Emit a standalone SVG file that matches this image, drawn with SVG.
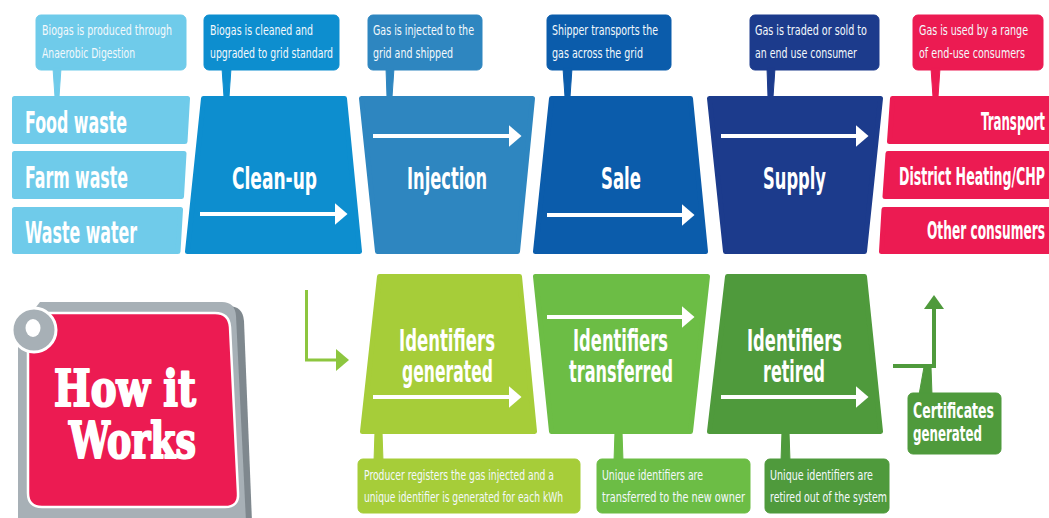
<svg xmlns="http://www.w3.org/2000/svg" width="1049" height="518" viewBox="0 0 1049 518">
<style>
.lbl{font-family:'Liberation Sans Narrow','DejaVu Sans Condensed','Liberation Sans',Arial,sans-serif;font-weight:bold;fill:#fff;}
.big{font-size:30px;}
.red{font-size:24.5px;}
.cer{font-size:21px;}
.co{font-family:'Liberation Sans Narrow','DejaVu Sans Condensed','Liberation Sans',Arial,sans-serif;font-size:14px;fill:#f4f9fc;}
.shp{stroke-linejoin:round;stroke-width:5;}
.arr{stroke:#fff;stroke-width:4;fill:none;}
.hw{font-family:'DejaVu Serif','Liberation Serif',serif;font-weight:bold;font-size:50px;fill:#fff;stroke:#fff;stroke-width:2.2;stroke-linejoin:round;}
.c1{fill:#6fcbea;stroke:#6fcbea;}
.c2{fill:#0d8ecf;stroke:#0d8ecf;}
.c3{fill:#2e86c0;stroke:#2e86c0;}
.c4{fill:#0b5cab;stroke:#0b5cab;}
.c5{fill:#1c3b8c;stroke:#1c3b8c;}
.c6{fill:#ec1b52;stroke:#ec1b52;}
.g1{fill:#a6cd39;stroke:#a6cd39;}
.g2{fill:#6cbd45;stroke:#6cbd45;}
.g3{fill:#4f9a3c;stroke:#4f9a3c;}
</style>
<defs>
<marker id="ah" viewBox="0 0 10 10" refX="1" refY="5" markerWidth="3.2" markerHeight="5.5" orient="auto" markerUnits="strokeWidth" preserveAspectRatio="none"><path d="M0,0 L10,5 L0,10 Z" fill="#fff"/></marker>
</defs>
<rect width="1049" height="518" fill="#fff"/>

<!-- top callouts -->
<g id="callout-produce">
<rect x="36" y="15" width="150" height="55" rx="5" class="c1"/>
<polygon points="53,68 61,68 59,97 55,97" class="c1"/>
<text class="co" x="42" y="35" textLength="130" lengthAdjust="spacingAndGlyphs">Biogas is produced through</text>
<text class="co" x="42" y="58" textLength="93" lengthAdjust="spacingAndGlyphs">Anaerobic Digestion</text>
</g>
<g id="callout-clean">
<rect x="204" y="15" width="135" height="55" rx="5" class="c2"/>
<polygon points="222,68 231,68 229,97 224,97" class="c2"/>
<text class="co" x="210" y="35" textLength="103" lengthAdjust="spacingAndGlyphs">Biogas is cleaned and</text>
<text class="co" x="210" y="58" textLength="123" lengthAdjust="spacingAndGlyphs">upgraded to grid standard</text>
</g>
<g id="callout-inject">
<rect x="368" y="15" width="114" height="55" rx="5" class="c3"/>
<polygon points="386,68 394,68 392,97 387,97" class="c3"/>
<text class="co" x="373" y="35" textLength="101" lengthAdjust="spacingAndGlyphs">Gas is injected to the</text>
<text class="co" x="373" y="58" textLength="80" lengthAdjust="spacingAndGlyphs">grid and shipped</text>
</g>
<g id="callout-ship">
<rect x="547" y="15" width="124" height="55" rx="5" class="c4"/>
<polygon points="563,68 572,68 570,97 565,97" class="c4"/>
<text class="co" x="552" y="35" textLength="106" lengthAdjust="spacingAndGlyphs">Shipper transports the</text>
<text class="co" x="552" y="58" textLength="91" lengthAdjust="spacingAndGlyphs">gas across the grid</text>
</g>
<g id="callout-trade">
<rect x="750" y="15" width="129" height="55" rx="5" class="c5"/>
<polygon points="767,68 775,68 773,97 768,97" class="c5"/>
<text class="co" x="755" y="35" textLength="112" lengthAdjust="spacingAndGlyphs">Gas is traded or sold to</text>
<text class="co" x="755" y="58" textLength="102" lengthAdjust="spacingAndGlyphs">an end use consumer</text>
</g>
<g id="callout-use">
<rect x="913" y="15" width="130" height="55" rx="5" class="c6"/>
<polygon points="931,68 940,68 938,97 933,97" class="c6"/>
<text class="co" x="919" y="35" textLength="109" lengthAdjust="spacingAndGlyphs">Gas is used by a range</text>
<text class="co" x="919" y="58" textLength="106" lengthAdjust="spacingAndGlyphs">of end-use consumers</text>
</g>

<!-- waste boxes -->
<g id="food-waste">
<polygon points="14.5,98.5 187.5,98.5 185,141.5 14.5,141.5" class="shp c1"/>
<text class="lbl big" x="25" y="133" textLength="102" lengthAdjust="spacingAndGlyphs">Food waste</text>
</g>
<g id="farm-waste">
<polygon points="14.5,153.5 184,153.5 181.5,196.5 14.5,196.5" class="shp c1"/>
<text class="lbl big" x="25" y="188" textLength="103" lengthAdjust="spacingAndGlyphs">Farm waste</text>
</g>
<g id="waste-water">
<polygon points="14.5,209.5 180.5,209.5 178,251.5 14.5,251.5" class="shp c1"/>
<text class="lbl big" x="25" y="243" textLength="112" lengthAdjust="spacingAndGlyphs">Waste water</text>
</g>

<!-- process stages -->
<g id="clean-up">
<polygon points="203.5,98.5 344.5,98.5 359.5,251.5 187.5,251.5" class="shp c2"/>
<text class="lbl big" x="232" y="189" textLength="85" lengthAdjust="spacingAndGlyphs">Clean-up</text>
<line class="arr" x1="200" y1="214" x2="336" y2="214" marker-end="url(#ah)"/>
</g>
<g id="injection">
<polygon points="361.5,98.5 532.5,98.5 517.5,251.5 377.5,251.5" class="shp c3"/>
<text class="lbl big" x="407" y="189" textLength="80" lengthAdjust="spacingAndGlyphs">Injection</text>
<line class="arr" x1="373" y1="136" x2="510" y2="136" marker-end="url(#ah)"/>
</g>
<g id="sale">
<polygon points="551.5,98.5 690.5,98.5 705.5,251.5 535.5,251.5" class="shp c4"/>
<text class="lbl big" x="601" y="189" textLength="40" lengthAdjust="spacingAndGlyphs">Sale</text>
<line class="arr" x1="547" y1="215" x2="683" y2="215" marker-end="url(#ah)"/>
</g>
<g id="supply">
<polygon points="709.5,98.5 880.5,98.5 864.5,251.5 725.5,251.5" class="shp c5"/>
<text class="lbl big" x="763" y="189" textLength="63" lengthAdjust="spacingAndGlyphs">Supply</text>
<line class="arr" x1="721" y1="136" x2="857" y2="136" marker-end="url(#ah)"/>
</g>

<!-- end uses -->
<g id="transport">
<polygon points="892.5,98.5 1055,98.5 1055,141.5 889.5,141.5" class="shp c6"/>
<text class="lbl red" x="1045" y="130" text-anchor="end" textLength="64" lengthAdjust="spacingAndGlyphs">Transport</text>
</g>
<g id="district-heating">
<polygon points="888,153.5 1055,153.5 1055,196.5 885,196.5" class="shp c6"/>
<text class="lbl red" x="1045" y="185" text-anchor="end" textLength="146" lengthAdjust="spacingAndGlyphs">District Heating/CHP</text>
</g>
<g id="other-consumers">
<polygon points="884,209.5 1055,209.5 1055,251.5 881.5,251.5" class="shp c6"/>
<text class="lbl red" x="1045" y="239" text-anchor="end" textLength="118" lengthAdjust="spacingAndGlyphs">Other consumers</text>
</g>

<!-- How it works badge -->
<g id="how-it-works">
<path d="M45,306 H228 Q243,306 244,321 L252,522 H23 V340 Z" fill="#7f888e"/>
<path d="M40,302 H222 Q235,302 236,316 L246,522 H18 V330 Z" fill="#a7b0b6"/>
<path d="M42,313 H215 Q229,313 230,327 L238,493 Q239,507 225,507 H42 Q28,507 28,493 V327 Z" fill="#ec1b52" stroke="#fff" stroke-width="2.5"/>
<circle cx="34" cy="330" r="22" fill="#a7b0b6" stroke="#fff" stroke-width="3"/>
<ellipse cx="33" cy="328" rx="7.5" ry="9" fill="#fff"/>
<text class="hw" x="54" y="406" textLength="142" lengthAdjust="spacingAndGlyphs">How it</text>
<text class="hw" x="69" y="458" textLength="127" lengthAdjust="spacingAndGlyphs">Works</text>
</g>

<!-- certificate stages -->
<g id="identifiers-generated">
<polygon points="379.5,276.5 519.5,276.5 534.5,431.5 362.5,431.5" class="shp g1"/>
<text class="lbl big" x="399" y="351" textLength="96" lengthAdjust="spacingAndGlyphs">Identifiers</text>
<text class="lbl big" x="402" y="382" textLength="91" lengthAdjust="spacingAndGlyphs">generated</text>
<line class="arr" x1="373" y1="397" x2="510" y2="397" marker-end="url(#ah)"/>
</g>
<g id="identifiers-transferred">
<polygon points="535.5,276.5 707.5,276.5 690.5,431.5 551.5,431.5" class="shp g2"/>
<text class="lbl big" x="573" y="351" textLength="95" lengthAdjust="spacingAndGlyphs">Identifiers</text>
<text class="lbl big" x="569" y="382" textLength="104" lengthAdjust="spacingAndGlyphs">transferred</text>
<line class="arr" x1="547" y1="317" x2="683" y2="317" marker-end="url(#ah)"/>
</g>
<g id="identifiers-retired">
<polygon points="727.5,276.5 864.5,276.5 880.5,431.5 709.5,431.5" class="shp g3"/>
<text class="lbl big" x="747" y="351" textLength="95" lengthAdjust="spacingAndGlyphs">Identifiers</text>
<text class="lbl big" x="763" y="382" textLength="62" lengthAdjust="spacingAndGlyphs">retired</text>
<line class="arr" x1="721" y1="397" x2="857" y2="397" marker-end="url(#ah)"/>
</g>

<!-- bottom callouts -->
<g id="callout-register">
<polygon points="375,432 382,432 383,461 374,461" class="g1"/>
<rect x="358" y="459" width="222" height="54" rx="5" class="g1"/>
<text class="co" x="364" y="480" textLength="190" lengthAdjust="spacingAndGlyphs">Producer registers the gas injected and a</text>
<text class="co" x="364" y="502" textLength="199" lengthAdjust="spacingAndGlyphs">unique identifier is generated for each kWh</text>
</g>
<g id="callout-transfer">
<polygon points="615,432 622,432 623,461 614,461" class="g2"/>
<rect x="597" y="459" width="153" height="54" rx="5" class="g2"/>
<text class="co" x="602" y="480" textLength="101" lengthAdjust="spacingAndGlyphs">Unique identifiers are</text>
<text class="co" x="602" y="502" textLength="143" lengthAdjust="spacingAndGlyphs">transferred to the new owner</text>
</g>
<g id="callout-retire">
<polygon points="782,432 789,432 790,461 781,461" class="g3"/>
<rect x="765" y="459" width="124" height="54" rx="5" class="g3"/>
<text class="co" x="770" y="480" textLength="103" lengthAdjust="spacingAndGlyphs">Unique identifiers are</text>
<text class="co" x="770" y="502" textLength="117" lengthAdjust="spacingAndGlyphs">retired out of the system</text>
</g>
<g id="certificates-generated">
<polygon points="924,367 931,367 932,395 919,395" class="g3"/>
<rect x="908" y="393" width="93" height="61" rx="5" class="g3"/>
<text class="lbl cer" x="913" y="418" textLength="81" lengthAdjust="spacingAndGlyphs">Certificates</text>
<text class="lbl cer" x="913" y="441" textLength="69" lengthAdjust="spacingAndGlyphs">generated</text>
</g>

<!-- connectors -->
<g id="connectors">
<polyline points="306.5,290 306.5,360 338,360" fill="none" stroke="#8dc63f" stroke-width="3"/>
<polygon points="336,349 349,360 336,371" fill="#8dc63f"/>
<polyline points="893,366 934,366 934,306" fill="none" stroke="#4f9a3c" stroke-width="4"/>
<polygon points="924,309 934,295 944,309" fill="#4f9a3c"/>
</g>
</svg>
